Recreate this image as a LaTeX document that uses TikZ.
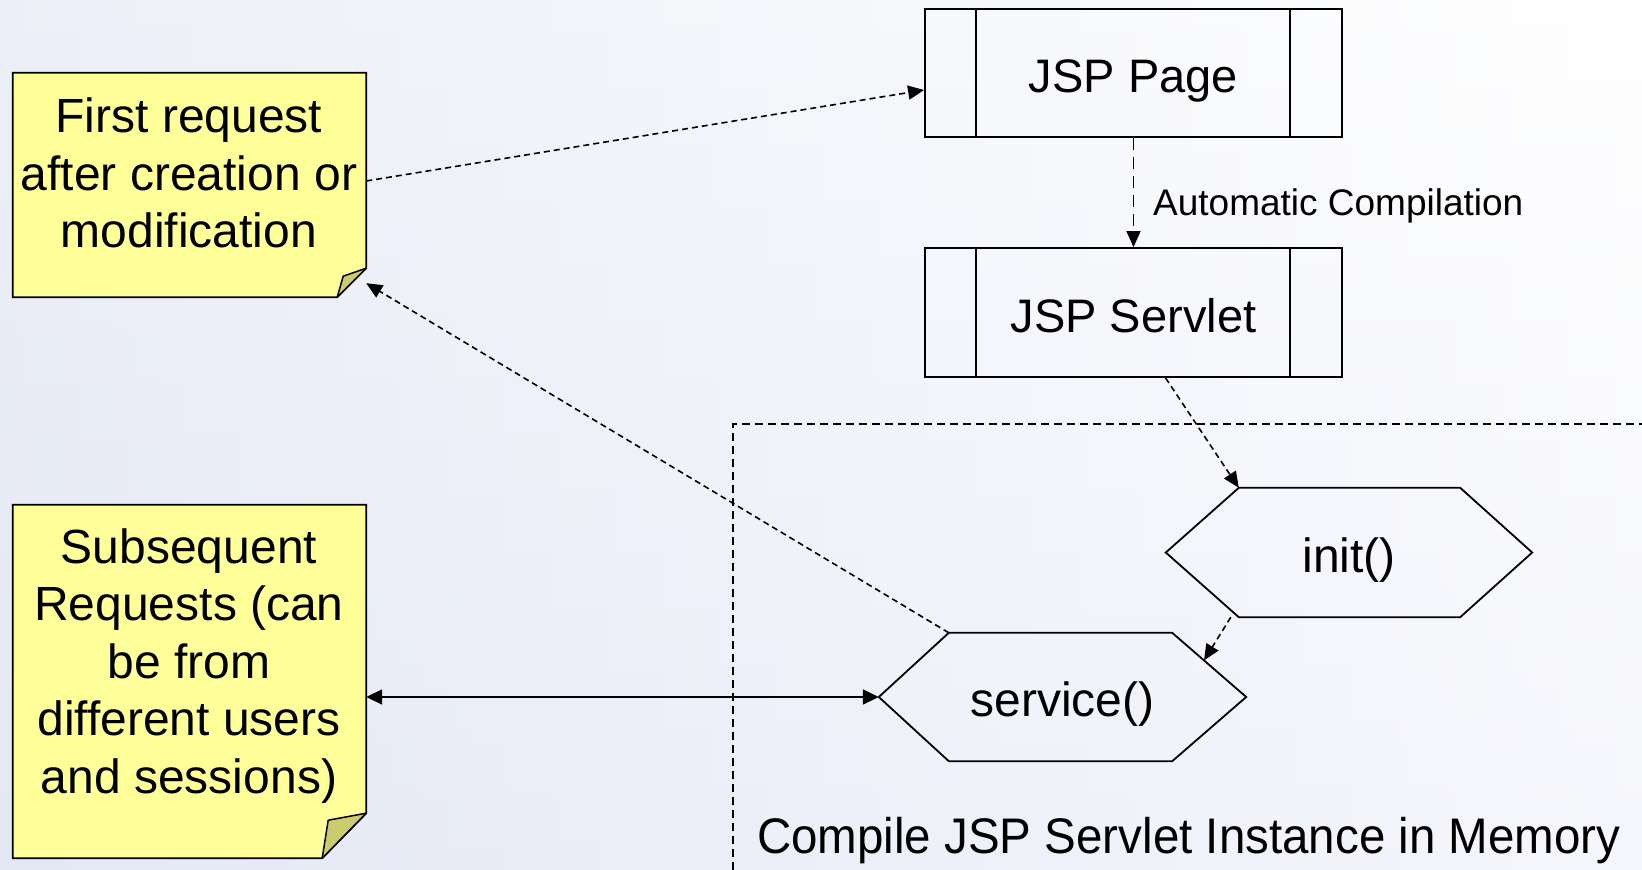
\documentclass[tikz,border=0pt]{standalone}
\usepackage{fontspec}
\setmainfont{Liberation Sans}
\usetikzlibrary{arrows.meta,calc}
\definecolor{noteyellow}{RGB}{255,255,153}
\definecolor{notefold}{RGB}{204,204,110}
\definecolor{bgblue}{RGB}{218,224,240}
\definecolor{bgmid}{RGB}{238,240,250}
\begin{document}
\begin{tikzpicture}[x=1pt,y=-1pt,
  procbox/.style={draw, line width=1.8pt, minimum width=417pt, inner sep=0pt, text height=45pt, text depth=6pt, font=\fontsize{47}{56}\selectfont},
  hexnode/.style={inner sep=0pt, text height=45pt, text depth=6pt, font=\fontsize{48}{57}\selectfont},
  hexline/.style={line width=1.8pt, line join=miter},
  notebox/.style={minimum width=353pt, inner sep=0pt},
  noteedge/.style={draw=black, fill=noteyellow, line width=1.8pt},
  notefoldst/.style={draw=black, fill=notefold, line width=1.5pt, line join=round},
  notetext/.style={align=center, font=\fontsize{48}{57.5}\selectfont, inner sep=0pt},
  conn/.style={line width=1.6pt, dash pattern=on 6pt off 4pt, -{Triangle[length=16pt,width=14pt]}},
  connlong/.style={line width=1.6pt, dash pattern=on 12pt off 7pt, -{Triangle[length=16pt,width=14pt]}},
  memline/.style={line width=1.6pt, dash pattern=on 8pt off 5pt},
  solidconn/.style={line width=1.8pt, {Triangle[length=16pt,width=15pt]}-{Triangle[length=16pt,width=15pt]}}
]
\useasboundingbox (0,0) rectangle (1642,870);
\shade[left color=bgblue, right color=white] (0,0) rectangle (1642,870);
\shade[top color=white, bottom color=bgmid, opacity=0.5] (0,0) rectangle (1642,870);

% memory region
\coordinate (memBL) at (733,870);
\coordinate (memTL) at (733,424);
\coordinate (memTR) at (1642,424);
\draw[memline] (memBL) -- (memTL) -- (memTR);
\node[anchor=west, inner sep=0pt, font=\fontsize{50}{60}\selectfont] (memlbl) at (757,841) {\scalebox{0.95}[1]{Compile JSP Servlet Instance in Memory}};

% notes
\node[notebox, minimum height=224pt] (n1) at (189.5,185) {};
\draw[noteedge] (n1.north west) -- (n1.north east) -- ([yshift=29pt]n1.south east) -- ([xshift=-29pt]n1.south east) -- (n1.south west) -- cycle;
\draw[notefoldst] ([yshift=29pt]n1.south east) -- ([xshift=-23pt,yshift=21pt]n1.south east) -- ([xshift=-29pt]n1.south east) -- cycle;
\node[notetext] (n1t) at (189,173) {First request\\after creation or\\modification};

\node[notebox, minimum height=353pt] (n2) at (189.5,681.5) {};
\draw[noteedge] (n2.north west) -- (n2.north east) -- ([yshift=45pt]n2.south east) -- ([xshift=-44pt]n2.south east) -- (n2.south west) -- cycle;
\draw[notefoldst] ([yshift=45pt]n2.south east) -- ([xshift=-38pt,yshift=38pt]n2.south east) -- ([xshift=-44pt]n2.south east) -- cycle;
\node[notetext] (n2t) at (189,666) {Subsequent\\Requests (can\\be from\\different users\\and sessions)};

% process boxes
\node[procbox, minimum height=128pt] (page) at (1133.5,73) {JSP Page};
\draw[line width=1.8pt] ([xshift=52pt]page.north west) -- ([xshift=52pt]page.south west);
\draw[line width=1.8pt] ([xshift=-53pt]page.north east) -- ([xshift=-53pt]page.south east);
\node[procbox, minimum height=129pt] (servlet) at (1133.5,312.5) {JSP Servlet};
\draw[line width=1.8pt] ([xshift=52pt]servlet.north west) -- ([xshift=52pt]servlet.south west);
\draw[line width=1.8pt] ([xshift=-53pt]servlet.north east) -- ([xshift=-53pt]servlet.south east);

% hexagons
\node[hexnode, minimum width=366pt, minimum height=129pt] (init) at (1349,552.5) {init()};
\draw[hexline] (init.west) -- ([xshift=73pt]init.north west) -- ([xshift=-72pt]init.north east) -- (init.east) -- ([xshift=-72pt]init.south east) -- ([xshift=73pt]init.south west) -- cycle;
\coordinate (init-tl) at ([xshift=73pt]init.north west);
\coordinate (init-bl) at ([xshift=73pt]init.south west);

\node[hexnode, minimum width=367pt, minimum height=128pt] (service) at (1062.5,697) {service()};
\draw[hexline] (service.west) -- ([xshift=70pt]service.north west) -- ([xshift=-74pt]service.north east) -- (service.east) -- ([xshift=-74pt]service.south east) -- ([xshift=70pt]service.south west) -- cycle;
\coordinate (svc-tl) at ([xshift=70pt]service.north west);
\coordinate (svc-tr) at ([xshift=-74pt]service.north east);

% connectors
\draw[conn] ([yshift=4pt]n1.east) -- ([yshift=-17pt]page.west);
\draw[connlong] (page.south) -- (servlet.north);
\node[anchor=west, inner sep=0pt, font=\fontsize{37}{44}\selectfont] (autolbl) at (1153,206) {Automatic Compilation};
\draw[conn] ([xshift=32pt]servlet.south) -- (init-tl);
\draw[conn] ([xshift=-8pt]init-bl) -- ($(svc-tr)!0.43!(service.east)$);
\draw[conn] (svc-tl) -- ([yshift=14pt]n1.south east);
\draw[solidconn] ([yshift=-15.5pt]n2.east) -- (service.west);
\end{tikzpicture}
\end{document}
